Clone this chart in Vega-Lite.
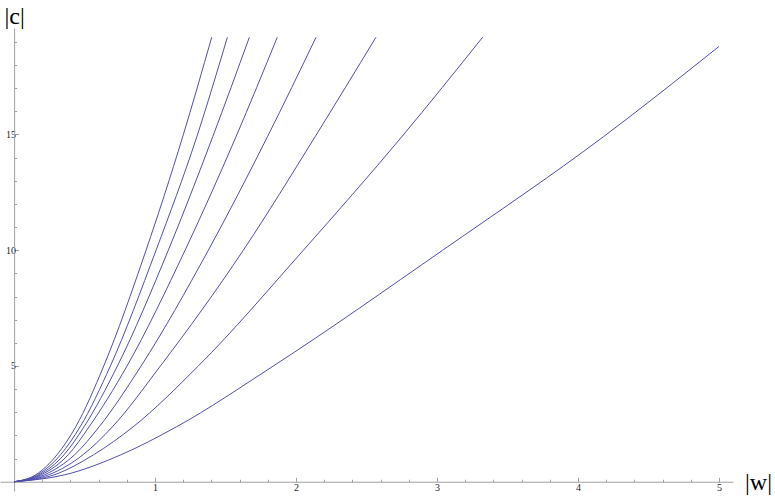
{
  "$schema": "https://vega.github.io/schema/vega-lite/v6.json",
  "width": 733,
  "height": 463,
  "autosize": {"type": "none"},
  "padding": {"left": 0, "top": 28, "right": 42, "bottom": 6},
  "background": "white",
  "config": {"view": {"stroke": null}},
  "data": {"values": [
    {"k": 1, "w": 0, "c": 0}, {"k": 1, "w": 0.153, "c": 0.3}, {"k": 1, "w": 0.305, "c": 1.17}, {"k": 1, "w": 0.437, "c": 2.37}, {"k": 1, "w": 0.636, "c": 5}, {"k": 1, "w": 0.936, "c": 10}, {"k": 1, "w": 1.196, "c": 14.9}, {"k": 1, "w": 1.402, "c": 19.2},
    {"k": 2, "w": 0, "c": 0}, {"k": 2, "w": 0.165, "c": 0.3}, {"k": 2, "w": 0.33, "c": 1.17}, {"k": 2, "w": 0.468, "c": 2.37}, {"k": 2, "w": 0.683, "c": 5}, {"k": 2, "w": 1.007, "c": 10}, {"k": 2, "w": 1.296, "c": 14.9}, {"k": 2, "w": 1.513, "c": 19.2},
    {"k": 3, "w": 0, "c": 0}, {"k": 3, "w": 0.178, "c": 0.3}, {"k": 3, "w": 0.355, "c": 1.17}, {"k": 3, "w": 0.496, "c": 2.37}, {"k": 3, "w": 0.733, "c": 5}, {"k": 3, "w": 1.094, "c": 10}, {"k": 3, "w": 1.409, "c": 14.9}, {"k": 3, "w": 1.669, "c": 19.2},
    {"k": 4, "w": 0, "c": 0}, {"k": 4, "w": 0.193, "c": 0.3}, {"k": 4, "w": 0.385, "c": 1.17}, {"k": 4, "w": 0.532, "c": 2.37}, {"k": 4, "w": 0.801, "c": 5}, {"k": 4, "w": 1.213, "c": 10}, {"k": 4, "w": 1.574, "c": 14.9}, {"k": 4, "w": 1.867, "c": 19.2},
    {"k": 5, "w": 0, "c": 0}, {"k": 5, "w": 0.215, "c": 0.3}, {"k": 5, "w": 0.43, "c": 1.17}, {"k": 5, "w": 0.603, "c": 2.37}, {"k": 5, "w": 0.901, "c": 5}, {"k": 5, "w": 1.378, "c": 10}, {"k": 5, "w": 1.797, "c": 14.9}, {"k": 5, "w": 2.142, "c": 19.2},
    {"k": 6, "w": 0, "c": 0}, {"k": 6, "w": 0.245, "c": 0.3}, {"k": 6, "w": 0.49, "c": 1.17}, {"k": 6, "w": 0.697, "c": 2.37}, {"k": 6, "w": 1.038, "c": 5}, {"k": 6, "w": 1.626, "c": 10}, {"k": 6, "w": 2.135, "c": 14.9}, {"k": 6, "w": 2.567, "c": 19.2},
    {"k": 7, "w": 0, "c": 0}, {"k": 7, "w": 0.285, "c": 0.3}, {"k": 7, "w": 0.565, "c": 1.17}, {"k": 7, "w": 0.844, "c": 2.37}, {"k": 7, "w": 1.307, "c": 5}, {"k": 7, "w": 2.052, "c": 10}, {"k": 7, "w": 2.75, "c": 14.9}, {"k": 7, "w": 3.324, "c": 19.2},
    {"k": 8, "w": 0, "c": 0}, {"k": 8, "w": 0.36, "c": 0.3}, {"k": 8, "w": 0.76, "c": 1.17}, {"k": 8, "w": 1.151, "c": 2.37}, {"k": 8, "w": 1.839, "c": 5}, {"k": 8, "w": 3.04, "c": 10}, {"k": 8, "w": 4.18, "c": 14.9}, {"k": 8, "w": 5.0, "c": 18.8}
  ]},
  "resolve": {"scale": {"x": "shared", "y": "shared"}, "axis": {"x": "independent", "y": "independent"}},
  "layer": [
    {
      "mark": {"type": "line", "strokeOpacity": 0},
      "encoding": {
        "x": {"field": "w", "type": "quantitative", "scale": {"domain": [-0.1, 5.1], "nice": false, "zero": false},
          "axis": {"orient": "bottom", "offset": -9.26, "values": [0.2,0.4,0.6,0.8,1.2,1.4,1.6,1.8,2.2,2.4,2.6,2.8,3.2,3.4,3.6,3.8,4.2,4.4,4.6,4.8], "labels": false, "domain": false, "grid": false, "tickSize": -2.5, "tickColor": "#a0a0a0", "tickWidth": 1, "title": null}},
        "y": {"field": "c", "type": "quantitative", "scale": {"domain": [-0.4, 19.6], "nice": false, "zero": false},
          "axis": {"orient": "left", "offset": -14.1, "values": [1,2,3,4,6,7,8,9,11,12,13,14,16,17,18,19], "labels": false, "domain": false, "grid": false, "tickSize": -2.5, "tickColor": "#a0a0a0", "tickWidth": 1, "title": null}},
        "detail": {"field": "k", "type": "nominal"}
      }
    },
    {
      "mark": {"type": "line", "interpolate": "monotone", "stroke": "#4f4fab", "strokeWidth": 1},
      "encoding": {
        "x": {"field": "w", "type": "quantitative",
          "axis": {"orient": "bottom", "offset": -9.26, "values": [1,2,3,4,5], "domain": true, "domainColor": "#a0a0a0", "domainWidth": 1, "grid": false, "tickSize": -4.5, "tickColor": "#a0a0a0", "tickWidth": 1,
            "labelFont": "Liberation Serif, Times New Roman, DejaVu Serif, serif", "labelFontSize": 10, "labelColor": "#222222", "labelPadding": 5,
            "title": "|w|", "titleFont": "Liberation Serif, Times New Roman, DejaVu Serif, serif", "titleFontSize": 24, "titleFontWeight": "normal", "titleColor": "#000000", "titleX": 758, "titleY": 8, "titleAlign": "center", "titleBaseline": "alphabetic", "titleAnchor": null}},
        "y": {"field": "c", "type": "quantitative",
          "axis": {"orient": "left", "offset": -14.1, "values": [5,10,15], "domain": true, "domainColor": "#a0a0a0", "domainWidth": 1, "grid": false, "tickSize": -4.5, "tickColor": "#a0a0a0", "tickWidth": 1,
            "labelFont": "Liberation Serif, Times New Roman, DejaVu Serif, serif", "labelFontSize": 10, "labelColor": "#222222", "labelPadding": 3,
            "title": "|c|", "titleFont": "Liberation Serif, Times New Roman, DejaVu Serif, serif", "titleFontSize": 24, "titleFontWeight": "normal", "titleColor": "#000000", "titleAngle": 0, "titleX": 0, "titleY": -5, "titleAlign": "center", "titleBaseline": "alphabetic", "titleAnchor": null}},
        "detail": {"field": "k", "type": "nominal"}
      }
    }
  ]
}
